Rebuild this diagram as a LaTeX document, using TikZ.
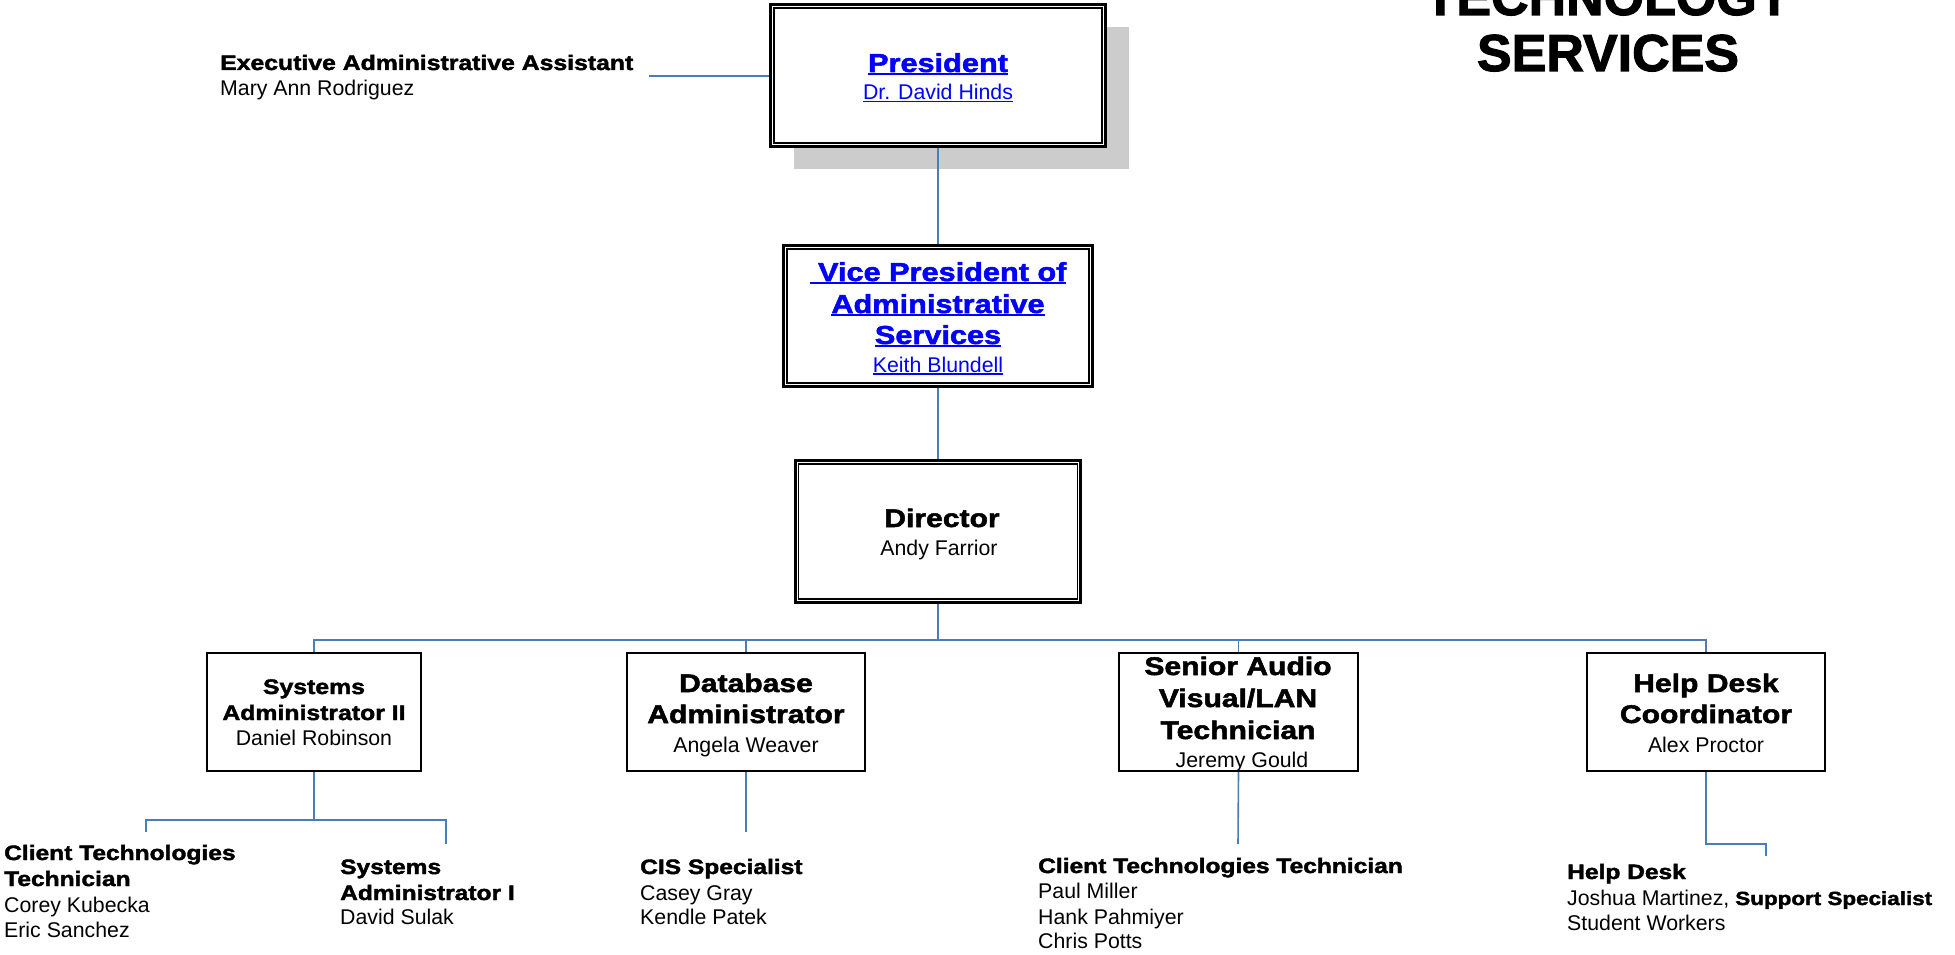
\documentclass[tikz,border=0pt]{standalone}
\usepackage{fontspec}
\setmainfont{Liberation Sans}
\newfontfamily\blk{Liberation Sans Bold}[FakeStretch=1.18,FakeBold=2]
\newfontfamily\ttlfont{Liberation Sans Bold}[FakeBold=2]
\usetikzlibrary{shadows}
\definecolor{connblue}{HTML}{4A7EBB}
\definecolor{linkblue}{HTML}{0000FF}
\definecolor{shadowgray}{HTML}{CCCCCC}
\newcommand\fs[1]{\fontsize{#1}{#1}\selectfont}
\newcommand\myul[1]{\setbox0\hbox{#1}\rlap{\vrule width\wd0 height -1.3pt depth 2.9pt}\box0}
\tikzset{
  conn/.style={draw=connblue, line width=1.6pt},
  sbox/.style={draw=black, line width=2pt, fill=white, rectangle, inner sep=0pt},
  obox/.style={draw=black, line width=3pt, fill=white, rectangle, inner sep=0pt},
  ibox/.style={draw=black, line width=1.6pt},
  txt/.style={anchor=base, inner sep=0pt},
  ltxt/.style={anchor=base west, inner sep=0pt},
  hd/.style={font=\blk\fs{25.5}},
  hds/.style={font=\blk\fs{21}},
  bhd/.style={font=\blk\fs{20.8}},
  nm/.style={font=\fs{21.3}},
  lnk/.style={text=linkblue},
}
\begin{document}
\begin{tikzpicture}[x=1pt, y=-1pt]
\useasboundingbox[fill=white] (0,0) rectangle (1955,955);

% title (partly cut off at the top, as in the reference)
\node[txt, font=\ttlfont\fs{52}] (title1) at (1608,15) {TECHNOLOGY};
\node[txt, font=\ttlfont\fs{52}] (title2) at (1608,71) {SERVICES};

% President
\node[obox, minimum width=335pt, minimum height=142pt,
      drop shadow={shadow xshift=23pt, shadow yshift=-23pt, fill=shadowgray, opacity=1}]
      (pres) at (938,75.5) {};
\draw[ibox] ([shift={(5pt,-5pt)}]pres.north west) rectangle ([shift={(-5pt,5pt)}]pres.south east);
\node[txt, lnk, font=\blk\fs{26}] (presa) at (938,72) {\myul{President}};
\node[txt, nm, lnk] (presb) at (938,99.5) {\myul{Dr. David Hinds}};

% Executive assistant
\node[ltxt, hds] (exa) at (220,70) {Executive Administrative Assistant};
\node[ltxt, nm] (exb) at (220,96) {Mary Ann Rodriguez};
\coordinate (exend) at (649,76);
\draw[conn] (exend) -- (pres.west |- exend);

% Vice President
\node[obox, minimum width=309pt, minimum height=141pt] (vp) at (938,316) {};
\draw[ibox] ([shift={(5pt,-5pt)}]vp.north west) rectangle ([shift={(-5pt,5pt)}]vp.south east);
\node[txt, lnk, font=\blk\fs{26}] (vpa) at (938,281) {\myul{\ Vice President of}};
\node[txt, lnk, font=\blk\fs{26}] (vpb) at (938,313) {\myul{Administrative}};
\node[txt, lnk, font=\blk\fs{26}] (vpc) at (938,344) {\myul{Services}};
\node[txt, nm, lnk] (vpd) at (938,372) {\myul{Keith Blundell}};

% Director
\node[obox, minimum width=285pt, minimum height=142pt] (dir) at (938,531.5) {};
\draw[ibox] ([shift={(4.5pt,-5pt)}]dir.north west) rectangle ([shift={(-4.5pt,5pt)}]dir.south east);
\node[txt, hd] (dira) at (942,527) {Director};
\node[txt, nm] (dirb) at (939,555) {Andy Farrior};

\draw[conn] (pres.south) -- (vp.north);
\draw[conn] (vp.south) -- (dir.north);

% second row boxes
\node[sbox, minimum width=214pt, minimum height=118pt] (b1) at (314,712) {};
\node[sbox, minimum width=238pt, minimum height=118pt] (b2) at (746,712) {};
\node[sbox, minimum width=239pt, minimum height=118pt] (b3) at (1238.5,712) {};
\node[sbox, minimum width=238pt, minimum height=118pt] (b4) at (1706,712) {};

\node[txt, hds] (b1a) at (314,694) {Systems};
\node[txt, hds] (b1b) at (314,720) {Administrator II};
\node[txt, nm] (b1c) at (314,745) {Daniel Robinson};

\node[txt, hd] (b2a) at (746,692) {Database};
\node[txt, hd] (b2b) at (746,723) {Administrator};
\node[txt, nm] (b2c) at (746,752) {Angela Weaver};

\node[txt, hd] (b3a) at (1238,675) {Senior Audio};
\node[txt, hd] (b3b) at (1238,707) {Visual/LAN};
\node[txt, hd] (b3c) at (1238,739) {Technician};
\node[txt, nm] (b3d) at (1242,767) {Jeremy Gould};

\node[txt, hd] (b4a) at (1706,692) {Help Desk};
\node[txt, hd] (b4b) at (1706,723) {Coordinator};
\node[txt, nm] (b4c) at (1706,752) {Alex Proctor};

% bus from director
\coordinate (bus) at (938,640);
\draw[conn] (dir.south) -- (bus);
\draw[conn] (b1.north) |- (bus) -| (b4.north);
\draw[conn] (b2.north) -- (b2.north |- bus);
\draw[conn] (b3.north) -- (b3.north |- bus);

% below box 1
\coordinate (j1) at (314,820);
\coordinate (c1l) at (146,832);
\coordinate (c1r) at (446,844);
\draw[conn] (b1.south) -- (j1);
\draw[conn] (c1l) |- (j1) -| (c1r);

% below box 2, 3
\coordinate (c2) at (746,832);
\draw[conn] (b2.south) -- (c2);
\coordinate (c3) at (1238,844);
\draw[conn] (b3.south) -- (c3);

% below box 4
\coordinate (c4) at (1766,856);
\coordinate (k4) at (1706,844);
\draw[conn] (b4.south) -- (k4) -| (c4);

% bottom texts
\node[ltxt, bhd] (s1a) at (4,860) {Client Technologies};
\node[ltxt, bhd] (s1b) at (4,886) {Technician};
\node[ltxt, nm] (s1c) at (4,912) {Corey Kubecka};
\node[ltxt, nm] (s1d) at (4,937) {Eric Sanchez};

\node[ltxt, bhd] (s2a) at (340,874) {Systems};
\node[ltxt, bhd] (s2b) at (340,900) {Administrator I};
\node[ltxt, nm] (s2c) at (340,924) {David Sulak};

\node[ltxt, bhd] (s3a) at (640,874) {CIS Specialist};
\node[ltxt, nm] (s3b) at (640,900) {Casey Gray};
\node[ltxt, nm] (s3c) at (640,924) {Kendle Patek};

\node[ltxt, bhd] (s4a) at (1038,873) {Client Technologies Technician};
\node[ltxt, nm] (s4b) at (1038,898) {Paul Miller};
\node[ltxt, nm] (s4c) at (1038,924) {Hank Pahmiyer};
\node[ltxt, nm] (s4d) at (1038,948) {Chris Potts};

\node[ltxt, bhd] (s5a) at (1567,879) {Help Desk};
\node[ltxt, nm] (s5b) at (1567,905) {Joshua Martinez, {\blk\fs{19}Support Specialist}};
\node[ltxt, nm] (s5c) at (1567,930) {Student Workers};
\end{tikzpicture}
\end{document}
